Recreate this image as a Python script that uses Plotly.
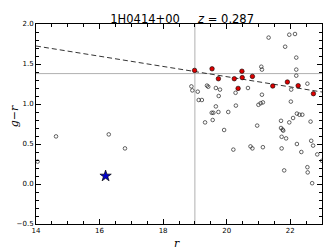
import plotly.graph_objects as go

# ---- data ----
field_r = [21.32, 21.97, 22.15, 21.84, 22.19, 21.09, 21.11, 22.19, 22.19, 22.54,
           22.03, 21.11, 18.89, 18.92, 19.09, 19.38, 19.42, 19.66, 19.79, 19.75,
           20.28, 20.67, 19.12, 19.22, 20.29, 19.66, 21.00, 21.07, 21.14, 22.02,
           19.53, 19.58, 19.74, 20.05, 19.56, 19.32, 19.92, 20.96, 20.21, 20.75,
           20.81, 21.71, 21.97, 22.09, 22.21, 22.29, 22.38, 22.64, 21.71, 21.76,
           21.78, 21.73, 21.87, 22.66, 22.72, 22.21, 22.85, 22.35, 23.00, 21.14,
           21.73, 22.54, 22.55, 21.81, 22.69, 14.63, 16.29, 16.80, 14.05]
field_gr = [1.83, 1.866, 1.875, 1.716, 1.58, 1.466, 1.43, 1.43, 1.354, 1.254,
            1.18, 1.116, 1.22, 1.17, 1.154, 1.23, 1.216, 1.20, 1.18, 1.10,
            1.14, 1.20, 1.05, 1.05, 0.98, 0.97, 0.99, 1.01, 1.02, 1.03,
            0.89, 0.89, 0.90, 0.90, 0.80, 0.77, 0.675, 0.73, 0.43, 0.47,
            0.445, 0.79, 0.77, 0.825, 0.88, 0.866, 0.866, 0.78, 0.70, 0.68,
            0.667, 0.59, 0.57, 0.54, 0.48, 0.50, 0.37, 0.40, 0.29, 0.46,
            0.445, 0.21, 0.145, 0.17, 0.01, 0.595, 0.62, 0.445, 0.28]

member_r = [18.99, 19.54, 19.74, 20.24, 20.48, 20.49, 20.36, 20.81, 21.45, 21.91, 22.25, 22.73]
member_gr = [1.42, 1.44, 1.316, 1.316, 1.41, 1.33, 1.195, 1.345, 1.225, 1.275, 1.229, 1.129]

bcg_r = [16.19]
bcg_gr = [0.10]

r_limit = 19.0
gr_cut = 1.38
rs_r = [14.0, 23.0]
rs_gr = [1.725, 1.15]

x_ticks = [14, 16, 18, 20, 22]
y_ticks = [-0.5, 0.0, 0.5, 1.0, 1.5, 2.0]
y_ticklabels = ["\u22120.5", "0.0", "0.5", "1.0", "1.5", "2.0"]

title_name = "1H0414+00"
title_z = "0.287"

# The page body keeps its default 8px margin, so the figure is sized to fit inside it.
W, H = 324, 241

fig = go.Figure()

fig.add_trace(go.Scatter(x=rs_r, y=rs_gr, mode="lines",
                         line=dict(color="black", width=0.8, dash="5px,3px"),
                         showlegend=False, hoverinfo="skip"))
fig.add_trace(go.Scatter(x=field_r, y=field_gr, mode="markers",
                         marker=dict(symbol="circle-open", size=3.6, color="#222222",
                                     line=dict(width=0.7)),
                         showlegend=False))
fig.add_trace(go.Scatter(x=member_r, y=member_gr, mode="markers",
                         marker=dict(symbol="circle", size=4.5, color="#dd0000",
                                     line=dict(color="black", width=0.6)),
                         showlegend=False))
fig.add_trace(go.Scatter(x=bcg_r, y=bcg_gr, mode="markers",
                         marker=dict(symbol="star", size=8.5, color="#0000cc",
                                     line=dict(color="black", width=0.7)),
                         showlegend=False))

fig.add_shape(type="line", xref="x", yref="paper", x0=r_limit, x1=r_limit, y0=0, y1=1,
              line=dict(color="#b0b0b0", width=1), layer="below")
fig.add_shape(type="line", xref="paper", yref="y", x0=0, x1=1, y0=gr_cut, y1=gr_cut,
              line=dict(color="#b0b0b0", width=1), layer="below")

tickfont = dict(family="DejaVu Sans", size=7, color="black")
axis_common = dict(showgrid=False, zeroline=False, showline=True, linecolor="black",
                   linewidth=1, mirror="ticks", ticks="inside", ticklen=5,
                   tickwidth=0.8, tickcolor="black", tickfont=tickfont)

fig.update_xaxes(range=[14, 23], tickvals=x_ticks, ticktext=[str(v) for v in x_ticks],
                 minor=dict(dtick=0.5, tick0=14, ticks="inside", ticklen=3,
                            tickwidth=0.7, tickcolor="black"),
                 **axis_common)
fig.update_yaxes(range=[-0.5, 2.0], tickvals=y_ticks, ticktext=y_ticklabels,
                 minor=dict(dtick=0.1, tick0=0, ticks="inside", ticklen=3,
                            tickwidth=0.7, tickcolor="black"),
                 **axis_common)

fig.add_annotation(text="<i>r</i>", xref="paper", yref="paper", x=0.494, y=-0.098,
                   showarrow=False, xanchor="center", yanchor="middle",
                   font=dict(family="DejaVu Serif", size=11, color="black"))
fig.add_annotation(text="<i>g</i>\u2212<i>r</i>", xref="paper", yref="paper",
                   x=-0.075, y=0.536, textangle=-90,
                   showarrow=False, xanchor="center", yanchor="middle",
                   font=dict(family="DejaVu Serif", size=11, color="black"))

fig.update_layout(
    width=W, height=H,
    margin=dict(l=26, r=9, t=16, b=25),
    paper_bgcolor="white", plot_bgcolor="white",
    title=dict(text=f"{title_name}&nbsp;&nbsp;&nbsp;&nbsp;&nbsp;<i>z</i> = {title_z}",
               x=0.5375, xanchor="center", y=1 - 10.5 / H, yanchor="middle",
               yref="container",
               font=dict(family="DejaVu Sans", size=11.5, color="black")),
)

fig.write_html("out.html")
